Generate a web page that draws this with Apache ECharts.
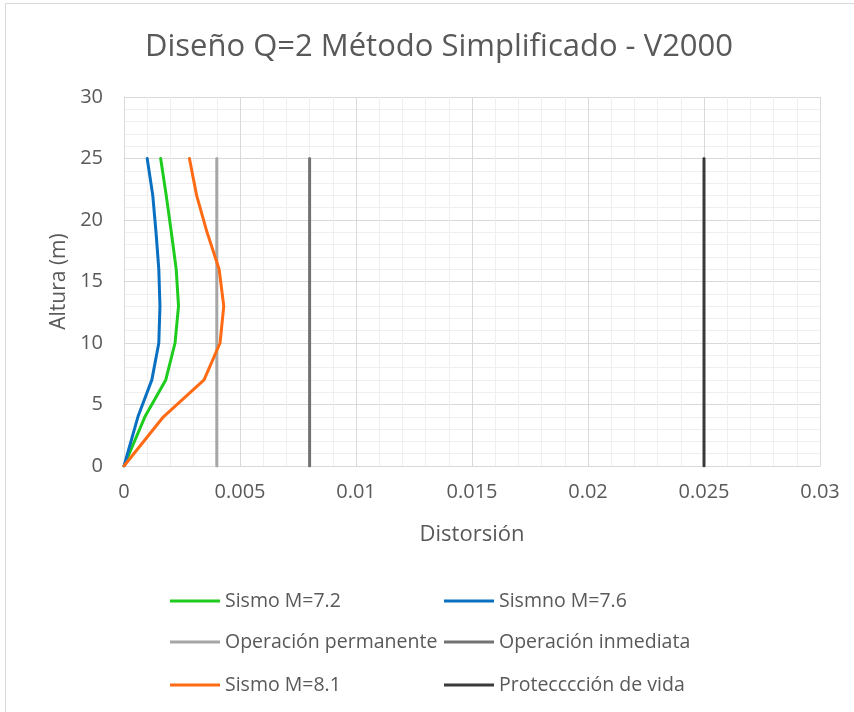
<!DOCTYPE html>
<html><head><meta charset="utf-8">
<script src="https://cdn.jsdelivr.net/npm/echarts@6/dist/echarts.min.js"></script>
<style>html,body{margin:0;padding:0;background:#fff}#frame{position:absolute;left:5px;top:3px;width:860px;height:720px;border:1px solid #d9d9d9;box-sizing:border-box}#c{position:absolute;left:0;top:0;width:854px;height:712px}</style>
</head><body><div id="frame"></div><div id="c"></div>
<script>
const heights = [0, 4, 7, 10, 13, 16, 19, 22, 25];
const sismo72 = [0, 0.0009, 0.0018, 0.0022, 0.00235, 0.00225, 0.00204, 0.00182, 0.00158];
const sismo76 = [0, 0.0006, 0.0012, 0.0015, 0.00155, 0.0015, 0.00138, 0.00124, 0.0010];
const sismo81 = [0, 0.0017, 0.00345, 0.00414, 0.0043, 0.0041, 0.00358, 0.00313, 0.00282];
const limitHeights = [0, 25];
const opPermanente = 0.004;
const opInmediata = 0.008;
const protVida = 0.025;
const names = ['Sismo M=7.2', 'Sismno M=7.6', 'Operación permanente', 'Operación inmediata', 'Sismo M=8.1', 'Protecccción de vida'];
const colors = ['#1ECC1E', '#0A70C2', '#A6A6A6', '#727272', '#FF6A14', '#3A3A3A'];

const pairs = (xs, ys) => ys.map((y, i) => [xs[i], y]);
const vline = (x) => limitHeights.map(y => [x, y]);
const dataSets = [pairs(sismo72, heights), pairs(sismo76, heights), vline(opPermanente), vline(opInmediata), pairs(sismo81, heights), vline(protVida)];

const font = '"Open Sans", "Noto Sans", sans-serif';
const txt = '#595959';
const legendPos = [[165, 586], [439, 586], [165, 627], [439, 627], [165, 670], [439, 670]];

const chart = echarts.init(document.getElementById('c'));
chart.setOption({
  animation: false,
  textStyle: { fontFamily: font },
  title: { text: 'Diseño Q=2 Método Simplificado - V2000', left: 140, top: 27,
    textStyle: { fontFamily: font, fontSize: 31, fontWeight: 'normal', color: txt } },
  grid: { left: 124, right: 34, top: 97, bottom: 246 },
  legend: names.map((n, i) => ({
    data: [n], left: legendPos[i][0], top: legendPos[i][1], icon: 'rect', itemWidth: 50, itemHeight: 3, itemGap: 0,
    textStyle: { fontFamily: font, fontSize: 19.5, color: txt }, selectedMode: false
  })),
  xAxis: {
    type: 'value', min: 0, max: 0.03, interval: 0.005,
    name: 'Distorsión', nameLocation: 'middle', nameGap: 58,
    nameTextStyle: { fontFamily: font, fontSize: 22, color: txt },
    axisLine: { show: true, lineStyle: { color: '#d9d9d9' } },
    axisTick: { show: false },
    axisLabel: { fontFamily: font, fontSize: 20, color: txt, margin: 16 },
    splitLine: { show: true, lineStyle: { color: '#d9d9d9', width: 1 } },
    minorTick: { show: false, splitNumber: 5 },
    minorSplitLine: { show: true, lineStyle: { color: '#efefef', width: 1 } }
  },
  yAxis: {
    type: 'value', min: 0, max: 30, interval: 5,
    name: 'Altura (m)', nameLocation: 'middle', nameGap: 52, nameRotate: 90,
    nameTextStyle: { fontFamily: font, fontSize: 21, color: txt },
    axisLine: { show: true, lineStyle: { color: '#d9d9d9' } },
    axisTick: { show: false },
    axisLabel: { fontFamily: font, fontSize: 20, color: txt, margin: 21 },
    splitLine: { show: true, lineStyle: { color: '#d9d9d9', width: 1 } },
    minorTick: { show: false, splitNumber: 5 },
    minorSplitLine: { show: true, lineStyle: { color: '#efefef', width: 1 } }
  },
  series: names.map((n, i) => ({
    name: n, type: 'line', data: dataSets[i], showSymbol: false, symbol: 'none',
    lineStyle: { color: colors[i], width: 3, cap: 'round', join: 'round' }, itemStyle: { color: colors[i] }
  }))
});
</script></body></html>
